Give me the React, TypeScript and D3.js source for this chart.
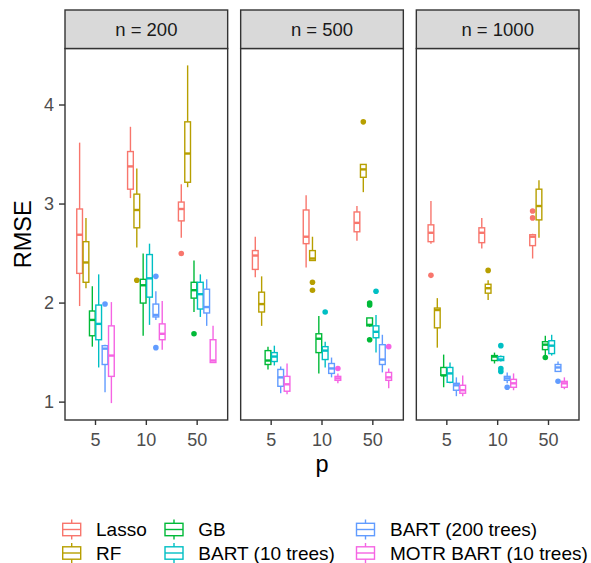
import React from "react";
import * as d3 from "d3";

const methods = ["Lasso", "RF", "GB", "BART (10 trees)", "BART (200 trees)", "MOTR BART (10 trees)"];
const methodColors = ["#F8766D", "#B79F00", "#00BA38", "#00BFC4", "#619CFF", "#F564E3"];
const pLevels = ["5", "10", "50"];
const nLabels = ["n = 200", "n = 500", "n = 1000"];
const yTicks = [1, 2, 3, 4];

// [lower whisker, Q1, median, Q3, upper whisker] per method, per p (5, 10, 50)
const stats200 = [
  [[1.97, 2.30, 2.69, 2.95, 3.62], [3.06, 3.15, 3.38, 3.53, 3.78], [2.66, 2.83, 2.95, 3.02, 3.20]],
  [[2.15, 2.21, 2.41, 2.62, 2.86], [2.56, 2.76, 2.94, 3.10, 3.36], [3.17, 3.22, 3.51, 3.83, 4.40]],
  [[1.56, 1.67, 1.83, 1.92, 2.17], [1.67, 2.00, 2.18, 2.24, 2.50], [1.91, 2.05, 2.13, 2.21, 2.43]],
  [[1.35, 1.63, 1.79, 1.98, 2.29], [1.78, 2.06, 2.25, 2.49, 2.60], [1.86, 1.94, 2.09, 2.21, 2.29]],
  [[1.10, 1.38, 1.54, 1.57, 1.58], [1.83, 1.86, 1.88, 1.99, 2.12], [1.77, 1.90, 1.96, 2.14, 2.24]],
  [[0.99, 1.26, 1.47, 1.77, 2.01], [1.53, 1.63, 1.69, 1.79, 2.02], [1.40, 1.40, 1.42, 1.63, 1.77]],
];
const outliers200 = [
  [[], [], [2.50]],
  [[], [2.23], []],
  [[], [], [1.69]],
  [[], [], []],
  [[1.99], [2.27, 1.55], []],
  [[], [], []],
];

const stats500 = [
  [[2.26, 2.34, 2.48, 2.53, 2.67], [2.36, 2.60, 2.67, 2.94, 3.09], [2.63, 2.72, 2.81, 2.92, 2.98]],
  [[1.77, 1.91, 1.99, 2.11, 2.27], [2.43, 2.43, 2.45, 2.53, 2.67], [3.12, 3.27, 3.35, 3.40, 3.40]],
  [[1.33, 1.38, 1.42, 1.52, 1.56], [1.29, 1.50, 1.64, 1.69, 1.87], [1.76, 1.77, 1.78, 1.85, 1.85]],
  [[1.37, 1.41, 1.46, 1.50, 1.57], [1.35, 1.43, 1.52, 1.56, 1.61], [1.50, 1.65, 1.71, 1.77, 1.88]],
  [[1.09, 1.16, 1.25, 1.33, 1.36], [1.25, 1.29, 1.34, 1.39, 1.45], [1.30, 1.38, 1.43, 1.58, 1.68]],
  [[1.08, 1.11, 1.18, 1.26, 1.39], [1.19, 1.22, 1.24, 1.26, 1.29], [1.14, 1.22, 1.25, 1.30, 1.34]],
];
const outliers500 = [
  [[], [], []],
  [[], [2.21, 2.13], [3.83]],
  [[], [], [2.00, 1.98, 1.63]],
  [[], [1.91], [2.12]],
  [[], [], []],
  [[], [1.34], [1.56]],
];

const stats1000 = [
  [[2.60, 2.62, 2.71, 2.79, 3.03], [2.55, 2.61, 2.71, 2.76, 2.86], [2.45, 2.58, 2.67, 2.69, 2.70]],
  [[1.55, 1.75, 1.93, 1.95, 2.05], [2.03, 2.10, 2.15, 2.19, 2.23], [2.66, 2.84, 2.98, 3.15, 3.24]],
  [[1.15, 1.27, 1.27, 1.35, 1.48], [1.39, 1.42, 1.46, 1.47, 1.50], [1.47, 1.53, 1.58, 1.61, 1.67]],
  [[1.19, 1.20, 1.29, 1.35, 1.40], [1.41, 1.42, 1.43, 1.46, 1.47], [1.47, 1.49, 1.57, 1.62, 1.68]],
  [[1.06, 1.12, 1.17, 1.19, 1.25], [1.19, 1.22, 1.24, 1.26, 1.30], [1.31, 1.31, 1.35, 1.38, 1.41]],
  [[1.06, 1.09, 1.12, 1.17, 1.27], [1.12, 1.15, 1.19, 1.23, 1.29], [1.13, 1.15, 1.19, 1.21, 1.25]],
];
const outliers1000 = [
  [[2.28], [], [2.93, 2.86]],
  [[], [2.33], []],
  [[], [], [1.45]],
  [[], [1.57, 1.34, 1.31], []],
  [[], [1.15], [1.21]],
  [[], [], []],
];

const panelStats = [stats200, stats500, stats1000];
const panelOutliers = [outliers200, outliers500, outliers1000];

const W = 591;
const H = 563;
const FONT = "'Liberation Sans', Arial, Helvetica, sans-serif";

export default function App() {
  const plotLeft = 65;
  const plotRight = 579;
  const gap = 13;
  const stripTop = 10;
  const stripBottom = 48.5;
  const panelBottom = 420;
  const panelW = (plotRight - plotLeft - 2 * gap) / 3;

  const allVals: number[] = [];
  panelStats.forEach((ps) => ps.forEach((m) => m.forEach((s) => allVals.push(...s))));
  panelOutliers.forEach((po) => po.forEach((m) => m.forEach((o) => allVals.push(...o))));
  const [vMin, vMax] = d3.extent(allVals) as [number, number];
  const pad = (vMax - vMin) * 0.05;
  const y = d3.scaleLinear().domain([vMin - pad, vMax + pad]).range([panelBottom, stripBottom]);

  const nM = methods.length;
  const dodge = 0.75;

  const panels = nLabels.map((label, pi) => {
    const x0 = plotLeft + pi * (panelW + gap);
    const x = d3.scalePoint<string>().domain(pLevels).range([x0, x0 + panelW]).padding(0.6);
    const step = x.step();
    const slot = (dodge / nM) * step;
    const boxW = slot * 0.9;
    const stats = panelStats[pi];
    const outs = panelOutliers[pi];
    return (
      <g key={label}>
        <rect x={x0} y={stripBottom} width={panelW} height={panelBottom - stripBottom} fill="#FFFFFF" />
        {pLevels.map((p, ki) =>
          methods.map((m, mi) => {
            const s = stats[mi][ki];
            const cx = (x(p) as number) + (mi - (nM - 1) / 2) * slot;
            const col = methodColors[mi];
            return (
              <g key={m + p}>
                <line x1={cx} x2={cx} y1={y(s[4])} y2={y(s[3])} stroke={col} strokeWidth={1.4} />
                <line x1={cx} x2={cx} y1={y(s[1])} y2={y(s[0])} stroke={col} strokeWidth={1.4} />
                <rect
                  x={cx - boxW / 2}
                  y={y(s[3])}
                  width={boxW}
                  height={Math.max(0.5, y(s[1]) - y(s[3]))}
                  fill="#FFFFFF"
                  stroke={col}
                  strokeWidth={1.4}
                />
                <line x1={cx - boxW / 2} x2={cx + boxW / 2} y1={y(s[2])} y2={y(s[2])} stroke={col} strokeWidth={2.4} />
                {outs[mi][ki].map((o, oi) => (
                  <circle key={oi} cx={cx} cy={y(o)} r={2.8} fill={col} />
                ))}
              </g>
            );
          })
        )}
        <rect
          x={x0}
          y={stripBottom}
          width={panelW}
          height={panelBottom - stripBottom}
          fill="none"
          stroke="#333333"
          strokeWidth={1.4}
        />
        <rect
          x={x0}
          y={stripTop}
          width={panelW}
          height={stripBottom - stripTop}
          fill="#D9D9D9"
          stroke="#333333"
          strokeWidth={1.4}
        />
        <text
          x={x0 + panelW / 2}
          y={36}
          textAnchor="middle"
          fontSize={18.5}
          fill="#1A1A1A"
          fontFamily={FONT}
        >
          {label}
        </text>
        {pLevels.map((p) => (
          <g key={"t" + p}>
            <line x1={x(p)} x2={x(p)} y1={panelBottom} y2={panelBottom + 5} stroke="#333333" strokeWidth={1.4} />
            <text
              x={x(p)}
              y={panelBottom + 26}
              textAnchor="middle"
              fontSize={18}
              fill="#4D4D4D"
              fontFamily={FONT}
            >
              {p}
            </text>
          </g>
        ))}
      </g>
    );
  });

  const legendCols = [
    { key: 71.7, text: 96 },
    { key: 174, text: 198.3 },
    { key: 365.5, text: 390 },
  ];
  const legendRows = [529.5, 553];

  return (
    <svg
      width={W}
      height={H}
      viewBox={`0 0 ${W} ${H}`}
      style={{ position: "absolute", left: 0, top: 0, background: "#FFFFFF" }}
    >
      <rect x={0} y={0} width={W} height={H} fill="#FFFFFF" />
      {panels}
      {yTicks.map((t) => (
        <g key={"y" + t}>
          <line x1={plotLeft - 6} x2={plotLeft} y1={y(t)} y2={y(t)} stroke="#333333" strokeWidth={1.4} />
          <text
            x={plotLeft - 11}
            y={y(t) + 6.3}
            textAnchor="end"
            fontSize={18}
            fill="#4D4D4D"
            fontFamily={FONT}
          >
            {t}
          </text>
        </g>
      ))}
      <text
        transform={`translate(31, ${(stripBottom + panelBottom) / 2}) rotate(-90)`}
        textAnchor="middle"
        fontSize={23.5}
        fill="#000000"
        fontFamily={FONT}
      >
        RMSE
      </text>
      <text x={(plotLeft + plotRight) / 2} y={472} textAnchor="middle" fontSize={23.5} fill="#000000" fontFamily={FONT}>
        p
      </text>
      {methods.map((m, mi) => {
        const col = legendCols[Math.floor(mi / 2)];
        const cy = legendRows[mi % 2];
        const c = methodColors[mi];
        return (
          <g key={"lg" + m}>
            <line x1={col.key} x2={col.key} y1={cy - 10} y2={cy + 10} stroke={c} strokeWidth={1.4} />
            <rect x={col.key - 9} y={cy - 6.2} width={18} height={12.4} fill="#FFFFFF" stroke={c} strokeWidth={1.4} />
            <line x1={col.key - 9} x2={col.key + 9} y1={cy} y2={cy} stroke={c} strokeWidth={1.4} />
            <text x={col.text} y={cy + 6.7} fontSize={19} fill="#000000" fontFamily={FONT}>
              {m}
            </text>
          </g>
        );
      })}
    </svg>
  );
}
